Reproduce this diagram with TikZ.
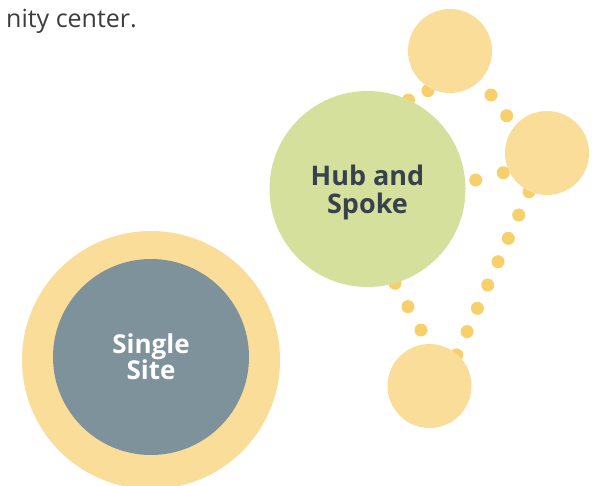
\documentclass[tikz,border=0pt]{standalone}
\usepackage{fontspec}
\setmainfont{Open Sans}
\usetikzlibrary{backgrounds}

\definecolor{spokeyellow}{HTML}{FADD98}
\definecolor{dotyellow}{HTML}{F8D06B}
\definecolor{hubgreen}{HTML}{D4E09B}
\definecolor{sitegray}{HTML}{7D929B}
\definecolor{labeldark}{HTML}{38424D}
\definecolor{bodytext}{HTML}{3C3C3C}

\begin{document}
\begin{tikzpicture}[x=1pt, y=-1pt,
  disc/.style={circle, inner sep=0pt, minimum size=#1},
  spoke/.style={disc=84pt, fill=spokeyellow},
  dotline/.style={draw=dotyellow, line width=13pt, line cap=round,
                  dash pattern=on 0pt off #1},
  hublabel/.style={font=\bfseries\fontsize{27}{28}\selectfont,
                   text=labeldark, align=center},
  sitelabel/.style={font=\bfseries\fontsize{26}{26}\selectfont,
                    text=white, align=center},
  bodyline/.style={font=\fontsize{25}{30}\selectfont, text=bodytext,
                   inner sep=0pt}
]
\clip (0,0) rectangle (594,485);

% closing words of the paragraph above the models
\node[bodyline, anchor=base east] (caption) at (137,27) {nity center.};

% single site model: a ring around one site
\node[disc=258pt, fill=spokeyellow] (sitering) at (151,360) {};
\node[disc=196pt, fill=sitegray, sitelabel] (site) at (151,357)
  {Single\\Site};

% hub and spoke model
\node[disc=196pt, fill=hubgreen] (hub) at (367.5,189) {};
\node[hublabel] (hubtext) at ([yshift=-3pt]hub.center) {Hub and\\Spoke};
\node[spoke] (spoketop)    at (450,51)    {};
\node[spoke] (spokeright)  at (547,153)   {};
\node[spoke] (spokebottom) at (429.5,386) {};

% ends of the dotted links between hub and spokes
\coordinate (ht1) at (408.5,100);
\coordinate (ht2) at (450,80);
\coordinate (tr1) at (491,95);
\coordinate (tr2) at (538,157);
\coordinate (hr1) at (475.7,180);
\coordinate (hr2) at (531,165.4);
\coordinate (rb1) at (529,191.7);
\coordinate (rb2) at (451.5,366.7);
\coordinate (hb1) at (395,283.3);
\coordinate (hb2) at (437,359);

\begin{scope}[on background layer]
  \draw[dotline=21.5pt] (ht1) -- (ht2);
  \draw[dotline=26pt]   (tr1) -- (tr2);
  \draw[dotline=28.5pt] (hr1) -- (hr2);
  \draw[dotline=25.5pt] (rb1) -- (rb2);
  \draw[dotline=26.7pt] (hb1) -- (hb2);
\end{scope}
\end{tikzpicture}
\end{document}
